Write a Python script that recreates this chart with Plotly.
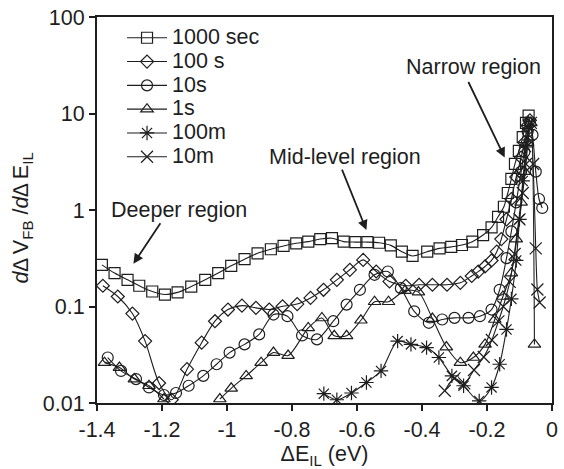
import plotly.graph_objects as go
import math

# ---- data: dΔV_FB/dΔE_IL vs ΔE_IL for each stress time ----
x_1000s = [-1.385, -1.346, -1.306, -1.270, -1.230, -1.191, -1.152, -1.110, -1.067, -1.027,
           -0.987, -0.946, -0.906, -0.865, -0.826, -0.787, -0.750, -0.713, -0.677, -0.641,
           -0.605, -0.568, -0.532, -0.496, -0.462, -0.429, -0.384, -0.346, -0.310, -0.277,
           -0.245, -0.212, -0.186, -0.166, -0.148, -0.136, -0.125, -0.114, -0.102, -0.090,
           -0.080, -0.072]
y_1000s = [0.270, 0.222, 0.189, 0.164, 0.143, 0.133, 0.140, 0.161, 0.189, 0.222,
           0.264, 0.309, 0.356, 0.392, 0.424, 0.452, 0.470, 0.500, 0.510, 0.470,
           0.465, 0.465, 0.458, 0.430, 0.370, 0.334, 0.370, 0.400, 0.415, 0.434,
           0.470, 0.550, 0.660, 0.850, 1.08, 1.50, 2.10, 3.00, 4.10, 5.70,
           8.00, 9.50]

x_100s = [-1.382, -1.336, -1.291, -1.252, -1.209, -1.170, -1.123, -1.078, -1.037, -0.997,
          -0.954, -0.911, -0.870, -0.829, -0.784, -0.743, -0.703, -0.662, -0.622, -0.581,
          -0.541, -0.500, -0.450, -0.409, -0.368, -0.323, -0.282, -0.247, -0.227, -0.206,
          -0.186, -0.170, -0.156, -0.140, -0.125, -0.110, -0.095, -0.085, -0.075, -0.068]
y_100s = [0.164, 0.127, 0.0845, 0.0438, 0.0161, 0.0108, 0.0224, 0.0422, 0.0704, 0.093,
          0.102, 0.0968, 0.093, 0.1005, 0.106, 0.1227, 0.149, 0.189, 0.240, 0.304,
          0.2305, 0.1818, 0.164, 0.168, 0.168, 0.168, 0.176, 0.207, 0.230, 0.260,
          0.300, 0.370, 0.500, 0.800, 1.30, 2.20, 3.50, 5.00, 7.50, 8.50]

x_10s = [-1.367, -1.326, -1.280, -1.240, -1.194, -1.157, -1.118, -1.073, -1.032, -0.992,
         -0.946, -0.901, -0.857, -0.814, -0.769, -0.723, -0.673, -0.632, -0.591, -0.546,
         -0.505, -0.465, -0.424, -0.379, -0.338, -0.300, -0.257, -0.222, -0.186, -0.161,
         -0.140, -0.125, -0.110, -0.095, -0.085, -0.075, -0.068, -0.060, -0.050, -0.040,
         -0.030]
y_10s = [0.0296, 0.0215, 0.0177, 0.0145, 0.0121, 0.0127, 0.0151, 0.0191, 0.0252, 0.0333,
         0.0405, 0.0514, 0.0825, 0.0793, 0.0501, 0.0456, 0.0704, 0.1046, 0.149, 0.213,
         0.2305, 0.155, 0.0892, 0.0678, 0.0733, 0.0763, 0.0763, 0.0793, 0.093, 0.149,
         0.317, 0.600, 1.20, 2.50, 4.00, 6.50, 8.00, 6.00, 2.50, 1.30,
         1.05]

x_1s = [-1.377, -1.331, -1.285, -1.240, -1.194, None, -1.022, -0.987, -0.941, -0.895,
        -0.857, -0.812, -0.750, -0.708, -0.670, -0.632, -0.588, -0.546, -0.503, -0.452,
        -0.411, -0.368, -0.325, -0.282, -0.242, -0.206, -0.176, -0.151, -0.125, -0.110,
        -0.095, -0.085, -0.075, -0.065, -0.054]
y_1s = [0.0262, 0.0233, 0.0177, 0.0151, 0.0110, None, 0.0110, 0.0142, 0.0191, 0.0262,
        0.0333, 0.0310, 0.0600, 0.0760, 0.0497, 0.0497, 0.0720, 0.112, 0.112, 0.146,
        0.141, 0.0750, 0.0380, 0.0262, 0.0296, 0.0405, 0.0733, 0.127, 0.222, 0.500,
        1.20, 2.50, 5.00, 8.00, 0.0405]

x_100m = [-0.702, -0.662, -0.617, -0.571, -0.526, -0.475, -0.434, -0.386, -0.348, -0.308,
          -0.272, -0.224, -0.186, -0.161, -0.140, -0.125, -0.110, -0.100, -0.090, -0.080,
          -0.072]
y_100m = [0.0125, 0.0108, 0.0127, 0.0163, 0.0215, 0.0438, 0.0405, 0.0375, 0.0296, 0.0191,
          0.0151, 0.0105, 0.0145, 0.0252, 0.0578, 0.120, 0.300, 0.800, 2.00, 4.50,
          7.50]

x_10m = [-0.330, -0.300, -0.270, -0.240, -0.210, -0.185, -0.165, -0.150, -0.130, -0.115,
         -0.100, -0.090, -0.080, -0.072, -0.065, -0.058, -0.050, -0.045, -0.038]
y_10m = [0.0134, 0.0180, 0.0160, 0.0220, 0.0300, 0.0450, 0.0700, 0.100, 0.180, 0.350,
         0.800, 1.50, 3.00, 6.00, 8.00, 3.00, 0.400, 0.150, 0.110]

series_names = ["1000 sec", "100 s", "10s", "1s", "100m", "10m"]
series_x = [x_1000s, x_100s, x_10s, x_1s, x_100m, x_10m]
series_y = [y_1000s, y_100s, y_10s, y_1s, y_100m, y_10m]
symbols = ["square-open", "diamond-open", "circle-open", "triangle-up-open",
           "asterisk-open", "x-thin-open"]
sizes = [11, 10, 11, 11, 12, 12]

x_tickvals = [-1.4, -1.2, -1.0, -0.8, -0.6, -0.4, -0.2, 0.0]
x_ticktext = ["-1.4", "-1.2", "-1", "-0.8", "-0.6", "-0.4", "-0.2", "0"]
y_tickvals = [0.01, 0.1, 1, 10, 100]
y_ticktext = ["0.01", "0.1", "1", "10", "100"]

INK = "#1e1e1e"
FONT = "Liberation Sans, Arial, sans-serif"
FS = 21.5

fig = go.Figure()
for name, xs, ys, sym, sz in zip(series_names, series_x, series_y, symbols, sizes):
    fig.add_trace(go.Scatter(
        x=xs, y=ys, name=f'<span style="font-size:{FS}px">{name}</span>',
        mode="lines+markers",
        line=dict(color=INK, width=1.1, shape="spline", smoothing=0.8),
        marker=dict(symbol=sym, size=sz, color=INK, line=dict(color=INK, width=1.2)),
        connectgaps=False,
    ))

# region labels with arrows
def ly(v):
    return math.log10(v)

arrows = [
    (-0.1456, 3.50, -37, -77),
    (-0.571, 0.619, -25, -62),
    (-1.288, 0.277, 28, -42),
]
for ax_x, ax_y, dx, dy in arrows:
    fig.add_annotation(x=ax_x, y=ly(ax_y), ax=dx, ay=dy, text="", showarrow=True,
                       arrowhead=2, arrowsize=1.1, arrowwidth=1.8, arrowcolor=INK)

labels = [
    ("Narrow region", -0.2407, 30.3),
    ("Mid-level region", -0.638, 3.58),
    ("Deeper region", -1.149, 0.996),
]
for txt, lx, lyv in labels:
    fig.add_annotation(x=lx, y=ly(lyv), text=txt, showarrow=False,
                       font=dict(family=FONT, size=FS, color=INK),
                       xanchor="center", yanchor="middle")

# y-axis title, set slightly below the middle of the plot
fig.add_annotation(xref="paper", yref="paper", x=-0.163, y=0.48,
                   text="<i>d∆</i>\u2009V<sub>FB</sub> /<i>d∆</i>\u2009E<sub>IL</sub>",
                   textangle=-90, showarrow=False, xanchor="center", yanchor="middle",
                   font=dict(family=FONT, size=FS, color=INK))

axis_common = dict(
    showline=True, linecolor=INK, linewidth=2, mirror=True,
    ticks="outside", ticklen=6, tickwidth=1.5, tickcolor=INK,
    showgrid=False, zeroline=False,
    tickfont=dict(family=FONT, size=FS, color=INK),
)

fig.update_layout(
    width=564, height=469,
    margin=dict(l=97, r=6, t=15, b=65),
    paper_bgcolor="white", plot_bgcolor="white",
    font=dict(family=FONT, size=FS, color=INK),
    showlegend=True,
    legend=dict(x=0.055, y=0.99, xanchor="left", yanchor="top",
                bgcolor="rgba(0,0,0,0)", borderwidth=0, itemwidth=40,
                font=dict(family=FONT, size=16, color=INK),
                tracegroupgap=0),
    xaxis=dict(range=[-1.4, 0], tickvals=x_tickvals, ticktext=x_ticktext,
               title=dict(text="ΔE<sub>IL</sub> (eV)", standoff=6,
                          font=dict(family=FONT, size=FS, color=INK)),
               **axis_common),
    yaxis=dict(type="log", range=[-2, 2], tickvals=y_tickvals, ticktext=y_ticktext,
               **axis_common),
)

fig.write_html("out.html")
